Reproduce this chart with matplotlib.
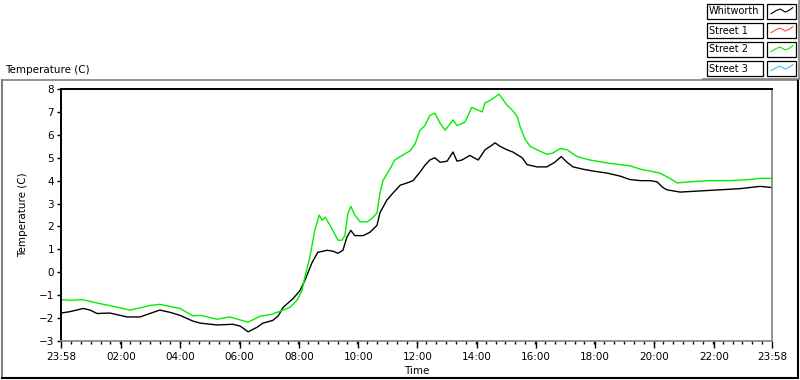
import numpy as np
import matplotlib
matplotlib.use('Agg')
import matplotlib.pyplot as plt
from matplotlib.lines import Line2D
from matplotlib.patches import Rectangle

matplotlib.rcParams.update({'font.family': 'DejaVu Sans', 'font.size': 7})

# minutes since 23:58 (day before) -> temperature (C)
t_whit = [0, 18, 45, 59, 73, 99, 134, 160, 180, 200, 221, 241, 267, 282, 316,
          348, 363, 379, 397, 409, 429, 440, 450, 470, 484, 494, 508, 520, 539,
          551, 561, 571, 579, 587, 595, 612, 626, 640, 646, 660, 672, 687, 701,
          713, 727, 737, 747, 757, 768, 782, 794, 802, 812, 828, 845, 859, 873,
          879, 889, 903, 915, 934, 944, 964, 984, 1000, 1013, 1025, 1037, 1057,
          1077, 1106, 1132, 1152, 1173, 1193, 1207, 1219, 1227, 1254, 1294,
          1335, 1375, 1416, 1440]
whitworth = [-1.78, -1.72, -1.58, -1.65, -1.8, -1.78, -1.95, -1.95, -1.8, -1.65,
             -1.75, -1.88, -2.13, -2.22, -2.3, -2.27, -2.35, -2.6, -2.4, -2.22,
             -2.1, -1.9, -1.53, -1.15, -0.8, -0.35, 0.4, 0.87, 0.96, 0.92, 0.83,
             0.96, 1.53, 1.83, 1.6, 1.6, 1.75, 2.05, 2.6, 3.15, 3.45, 3.8, 3.9,
             4.0, 4.37, 4.67, 4.9, 5.0, 4.8, 4.85, 5.25, 4.85, 4.9, 5.1, 4.9,
             5.35, 5.55, 5.65, 5.5, 5.35, 5.25, 5.0, 4.7, 4.6, 4.6, 4.8, 5.05,
             4.8, 4.6, 4.5, 4.42, 4.33, 4.2, 4.05, 4.0, 4.0, 3.95, 3.7, 3.6, 3.5,
             3.55, 3.6, 3.65, 3.75, 3.7]

t_st2 = [0, 18, 45, 79, 109, 140, 180, 200, 241, 267, 282, 316, 342, 379, 403,
         427, 444, 464, 478, 488, 494, 504, 514, 523, 529, 535, 545, 561, 569,
         575, 581, 587, 595, 606, 620, 630, 640, 646, 652, 666, 676, 687, 707,
         717, 727, 737, 747, 757, 768, 778, 794, 802, 818, 832, 842, 853, 859,
         869, 879, 887, 893, 903, 913, 924, 930, 940, 950, 964, 984, 996, 1011,
         1025, 1045, 1071, 1112, 1152, 1173, 1213, 1233, 1248, 1274, 1314,
         1355, 1396, 1416, 1440]
street2 = [-1.2, -1.22, -1.2, -1.37, -1.5, -1.65, -1.45, -1.4, -1.58, -1.9,
           -1.88, -2.05, -1.95, -2.18, -1.92, -1.83, -1.7, -1.53, -1.22, -0.8,
           -0.2, 0.65, 1.83, 2.5, 2.27, 2.4, 2.05, 1.4, 1.4, 1.6, 2.57, 2.88,
           2.5, 2.2, 2.2, 2.35, 2.6, 3.45, 4.0, 4.5, 4.9, 5.05, 5.3, 5.6, 6.2,
           6.4, 6.85, 6.95, 6.5, 6.2, 6.65, 6.4, 6.55, 7.2, 7.1, 7.0, 7.4, 7.5,
           7.65, 7.78, 7.6, 7.3, 7.1, 6.8, 6.35, 5.8, 5.5, 5.35, 5.15, 5.2, 5.4,
           5.35, 5.05, 4.9, 4.75, 4.65, 4.5, 4.33, 4.1, 3.9, 3.95, 4.0, 4.0,
           4.05, 4.1, 4.1]

tick_pos = [0, 122, 242, 362, 482, 602, 722, 842, 962, 1082, 1202, 1322, 1440]
tick_labels = ['23:58', '02:00', '04:00', '06:00', '08:00', '10:00', '12:00',
               '14:00', '16:00', '18:00', '20:00', '22:00', '23:58']
legend_names = ['Whitworth', 'Street 1', 'Street 2', 'Street 3']
legend_colors = ['black', '#ff4848', '#00ee00', '#30c0ff']

fig = plt.figure(figsize=(8, 3.8), dpi=100, facecolor='white')
W, H = 800.0, 380.0

ax = fig.add_axes([61 / W, 1 - 341 / H, (772 - 61) / W, (341 - 89) / H])
ax.plot(t_whit, whitworth, color='black', lw=1.0)
ax.plot(t_st2, street2, color='#00ee00', lw=1.0)

ax.set_xlim(0, 1440)
ax.set_ylim(-3, 8)
ax.set_yticks(range(-3, 9))
ax.set_xticks(tick_pos)
ax.set_xticklabels(tick_labels)
minor = [m for m in range(20, 1440, 20) if m not in tick_pos]
ax.set_xticks(minor, minor=True)
ax.tick_params(axis='y', length=3, width=1, pad=2, labelsize=7.5)
ax.tick_params(axis='x', which='major', length=5, width=1, pad=3, labelsize=7.5)
ax.tick_params(axis='x', which='minor', length=2.5, width=1)
ax.set_ylabel('Temperature (C)', fontsize=7.5, labelpad=8)
ax.set_xlabel('Time', fontsize=7.5, labelpad=3)

ax.spines['left'].set_color('black')
ax.spines['top'].set_color('black')
ax.spines['top'].set_linewidth(1.4)
ax.spines['left'].set_linewidth(1.4)
ax.spines['right'].set_color('#808080')
ax.spines['bottom'].set_color('#808080')
ax.spines['right'].set_linewidth(1.2)
ax.spines['bottom'].set_linewidth(1.2)

fig.text(5 / W, 1 - 70 / H, 'Temperature (C)', fontsize=7.5, va='center', ha='left')

# outer frame
fig.add_artist(Line2D([2 / W, 797 / W], [1 - 80 / H, 1 - 80 / H], color='#808080', lw=1.2))
fig.add_artist(Line2D([2 / W, 2 / W], [1 - 80 / H, 1 - 378 / H], color='#808080', lw=1.5))
fig.add_artist(Line2D([798 / W, 798 / W], [1 - 80 / H, 1 - 378 / H], color='black', lw=1.5))
fig.add_artist(Line2D([2 / W, 798 / W], [1 - 378 / H, 1 - 378 / H], color='black', lw=1.5))

# legend boxes
zx = [0.08, 0.3, 0.45, 0.65, 0.8, 0.95]
zy = [0.3, 0.6, 0.72, 0.45, 0.6, 0.85]
for i, (name, col) in enumerate(zip(legend_names, legend_colors)):
    top = 4 + 19 * i
    bot = top + 15
    fig.add_artist(Rectangle((707 / W, 1 - bot / H), 56 / W, 15 / H,
                             fill=False, edgecolor='black', lw=0.9))
    fig.add_artist(Rectangle((767 / W, 1 - bot / H), 29 / W, 15 / H,
                             fill=False, edgecolor='black', lw=0.9))
    fig.text(709 / W, 1 - (top + 7.5) / H, name, fontsize=7, va='center', ha='left')
    lx = [(767 + 2 + f * 25) / W for f in zx]
    ly = [1 - (bot - 2 - f * 11) / H for f in zy]
    fig.add_artist(Line2D(lx, ly, color=col, lw=0.8))
fig.add_artist(Line2D([799 / W, 799 / W], [1, 1 - 79 / H], color='#808080', lw=1.2))
fig.add_artist(Line2D([703 / W, 799 / W], [1 - 79 / H, 1 - 79 / H], color='#808080', lw=1.2))

fig.savefig('out.png', dpi=100, facecolor='white')
